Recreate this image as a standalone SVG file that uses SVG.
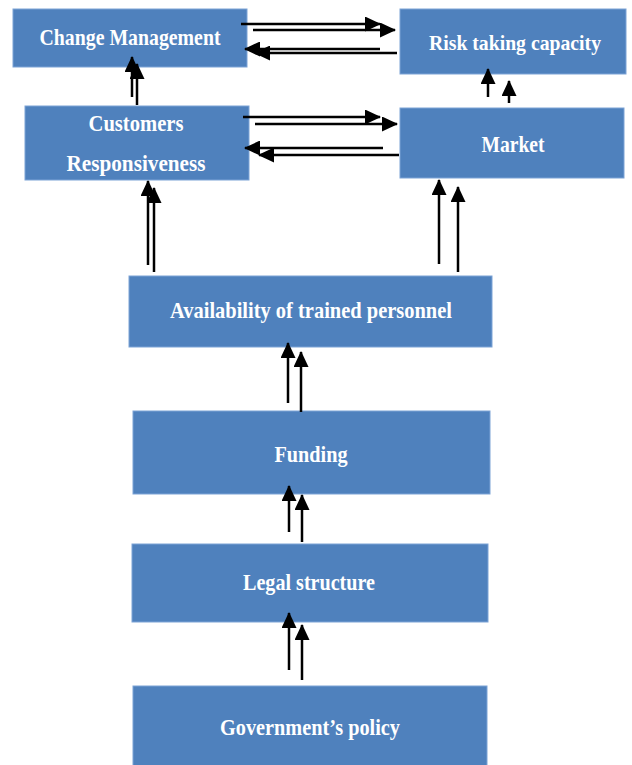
<svg xmlns="http://www.w3.org/2000/svg" width="632" height="765" viewBox="0 0 632 765">
<style>
.box{fill:#4F81BD;stroke:#7DA3D6;stroke-width:1}
.t{fill:#fff;font-family:"Liberation Serif",serif;font-weight:bold;font-size:24px;text-anchor:middle}
.c line{stroke:#000;stroke-width:2.5;marker-end:url(#ah)}
</style>
<defs>
<marker id="ah" markerUnits="userSpaceOnUse" markerWidth="16" markerHeight="15" refX="15" refY="7.5" orient="auto">
<path d="M0,0 L16,7.5 L0,15 z" fill="#000"/>
</marker>
</defs>
<rect width="632" height="765" fill="#fff"/>
<g id="change"><rect class="box" x="13" y="9" width="234" height="58"/><text class="t" x="130" y="45" textLength="181" lengthAdjust="spacingAndGlyphs">Change Management</text></g>
<g id="risk"><rect class="box" x="400" y="9" width="226" height="65"/><text class="t" x="515" y="50" style="font-size:22px" textLength="172" lengthAdjust="spacingAndGlyphs">Risk taking capacity</text></g>
<g id="customers"><rect class="box" x="25" y="106" width="224" height="74"/><text class="t" x="136" y="131" textLength="95" lengthAdjust="spacingAndGlyphs">Customers</text><text class="t" x="136" y="171" textLength="139" lengthAdjust="spacingAndGlyphs">Responsiveness</text></g>
<g id="market"><rect class="box" x="400" y="108" width="224" height="70"/><text class="t" x="513" y="152" textLength="63" lengthAdjust="spacingAndGlyphs">Market</text></g>
<g id="availability"><rect class="box" x="129" y="276" width="363" height="71"/><text class="t" x="311" y="318" textLength="282" lengthAdjust="spacingAndGlyphs">Availability of trained personnel</text></g>
<g id="funding"><rect class="box" x="133" y="411" width="357" height="83"/><text class="t" x="311" y="462" textLength="73" lengthAdjust="spacingAndGlyphs">Funding</text></g>
<g id="legal"><rect class="box" x="132" y="544" width="356" height="78"/><text class="t" x="309" y="590" textLength="132" lengthAdjust="spacingAndGlyphs">Legal structure</text></g>
<g id="government"><rect class="box" x="133" y="686" width="354" height="80"/><text class="t" x="310" y="735" textLength="180" lengthAdjust="spacingAndGlyphs">Government’s policy</text></g>
<g class="c" id="connectors">
<line x1="241" y1="24" x2="380" y2="24"/>
<line x1="253" y1="30" x2="395" y2="30"/>
<line x1="380" y1="49" x2="245" y2="49"/>
<line x1="397" y1="53" x2="255" y2="53"/>
<line x1="132" y1="97" x2="132" y2="57"/>
<line x1="137" y1="105" x2="137" y2="64"/>
<line x1="488" y1="97" x2="488" y2="69"/>
<line x1="509" y1="103" x2="509" y2="81"/>
<line x1="243" y1="117" x2="380" y2="117"/>
<line x1="255" y1="124" x2="397" y2="124"/>
<line x1="383" y1="148" x2="245" y2="148"/>
<line x1="399" y1="155" x2="259" y2="155"/>
<line x1="148" y1="265" x2="148" y2="181"/>
<line x1="154" y1="272" x2="154" y2="188"/>
<line x1="439" y1="264" x2="439" y2="180"/>
<line x1="458" y1="272" x2="458" y2="187"/>
<line x1="288" y1="403" x2="288" y2="343"/>
<line x1="301" y1="412" x2="301" y2="352"/>
<line x1="289" y1="532" x2="289" y2="486"/>
<line x1="302" y1="542" x2="302" y2="495"/>
<line x1="289" y1="670" x2="289" y2="613"/>
<line x1="302" y1="680" x2="302" y2="625"/>
</g>
</svg>
